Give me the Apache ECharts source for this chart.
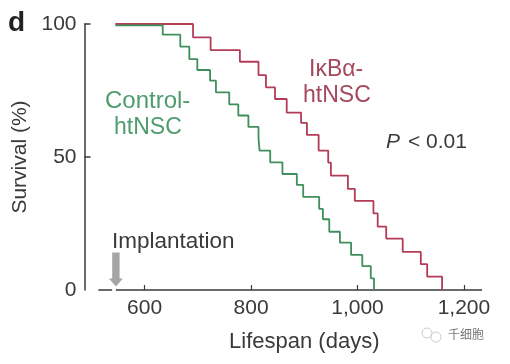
<!DOCTYPE html>
<html>
<head>
<meta charset="utf-8">
<style>html,body{margin:0;padding:0;background:#fff}#c{width:510px;height:364px}</style>
<script src="https://cdn.jsdelivr.net/npm/echarts@6/dist/echarts.min.js"></script>
</head>
<body>
<div id="c"></div>
<script>
const redDays = [545,691,724,779,814,828,845,867,894,905,927,945,950,982,995,1030,1038,1054,1085,1119,1131,1159];
const redSurvival = [100,95,90.2,85.8,80.8,76.2,71.8,66.7,62.8,58.3,52.4,47.9,43,38,33.5,28.8,23.8,19.3,14.3,9.7,5,0];
const greenDays = [545,634,667,684,699,723,734,759,776,795,814,816,836,859,886,898,928,935,947,967,988,1009,1025,1031];
const greenSurvival = [99.5,96,91.5,86.8,82.7,78.7,74.3,69.8,65.6,61.3,57,52.4,48,43.6,39.5,35,30.5,26.6,21.9,17.8,13.2,9,4.4,0];
const xTicks = [600,800,1000,1200];
const yLabels = [0,50,100];
const yTicks = [50,100];
const baseline = [[513,0],[539,0],[null,null],[546,0],[1234,0]];
const implantationDay = [[546,7.7]];
const FONT = '"Liberation Sans", Arial, sans-serif';
const INK = '#3a3a3a';
const RED = '#b23c56';
const GREEN = '#3f8f5c';
const zip = (a,b) => a.map((v,i) => [v,b[i]]);
const label = (text,x,y,fill,extra) => ({type:'text',left:x,top:y,silent:true,
  style:Object.assign({text,fill,font:'22px '+FONT},extra||{})});

const chart = echarts.init(document.getElementById('c'),null,{renderer:'canvas'});
chart.setOption({
  animation:false,
  backgroundColor:'#fff',
  grid:{left:84.5,right:28,top:24,height:266},
  xAxis:{type:'value',min:487,max:1234,name:'Lifespan (days)',nameLocation:'middle',nameGap:41,
    nameTextStyle:{fontFamily:FONT,fontSize:22,color:INK,padding:[0,0,0,42]},
    axisLine:{show:false},splitLine:{show:false},
    axisTick:{show:true,inside:true,length:5,customValues:xTicks,lineStyle:{color:INK,width:1.2}},
    axisLabel:{customValues:xTicks,fontFamily:FONT,fontSize:21,color:INK,margin:8}},
  yAxis:{type:'value',min:0,max:100,name:'Survival (%)',nameLocation:'middle',nameGap:51,
    nameTextStyle:{fontFamily:FONT,fontSize:21,color:INK},
    axisLine:{show:true,onZero:false,lineStyle:{color:INK,width:1.5}},splitLine:{show:false},
    axisTick:{show:true,inside:true,length:6,customValues:yTicks,lineStyle:{color:INK,width:1.5}},
    axisLabel:{customValues:yLabels,fontFamily:FONT,fontSize:21,color:INK,margin:8}},
  series:[
    {name:'Baseline',type:'line',data:baseline,symbol:'none',silent:true,clip:false,connectNulls:false,
      lineStyle:{color:INK,width:1.5}},
    {name:'IκBα-htNSC',type:'line',step:'end',data:zip(redDays,redSurvival),symbol:'none',clip:false,
      lineStyle:{color:RED,width:1.8}},
    {name:'Control-htNSC',type:'line',step:'end',data:zip(greenDays,greenSurvival),symbol:'none',clip:false,
      lineStyle:{color:GREEN,width:1.8}},
    {name:'Implantation',type:'scatter',data:implantationDay,clip:false,silent:true,
      symbol:'path://M3.3 0H10.7V26H14L7 34L0 26H3.3Z',symbolSize:[14,34],symbolKeepAspect:false,
      itemStyle:{color:'#8e8e8e'}}
  ],
  graphic:[
    label('d',8,9,'#222',{font:'bold 28px '+FONT}),
    label('Control-',105,89,'#4f9c6e',{font:'24px '+FONT}),
    label('htNSC',114,116,'#4f9c6e',{font:'23px '+FONT}),
    label('IκBα-',309,58,'#a5485c',{font:'23px '+FONT}),
    label('htNSC',303,84,'#a5485c',{font:'23px '+FONT}),
    {type:'text',left:386,top:132,silent:true,style:{text:'P',fill:INK,font:'italic 21px '+FONT}},
    label('< 0.01',408,132,INK,{font:'21px '+FONT}),
    label('Implantation',112,230,INK,{font:'22.5px '+FONT}),
    {type:'circle',silent:true,shape:{cx:427,cy:333,r:5},style:{fill:'none',stroke:'#ccc',lineWidth:1}},
    {type:'circle',silent:true,shape:{cx:436,cy:337,r:5},style:{fill:'none',stroke:'#ccc',lineWidth:1}},
    label('千细胞',448,328,'#777',{font:'12px "Noto Sans CJK SC"'})
  ]
});
</script>
</body>
</html>
